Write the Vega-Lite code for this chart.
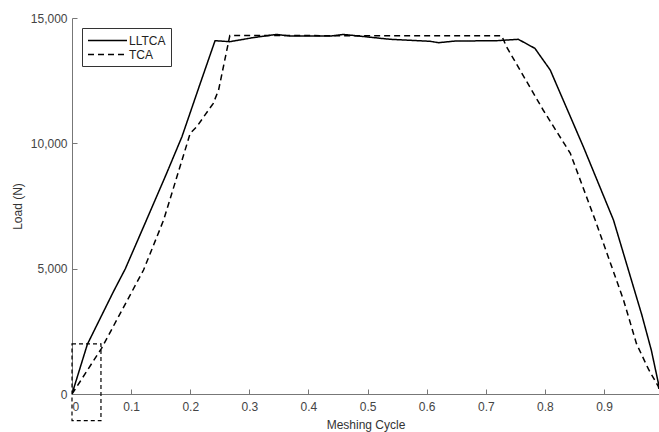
{
  "$schema": "https://vega.github.io/schema/vega-lite/v6.json",
  "width": 587,
  "height": 376,
  "autosize": "none",
  "padding": {"left": 72, "top": 18, "right": 0, "bottom": 38},
  "background": "white",
  "config": {
    "view": {"stroke": null},
    "font": "Liberation Sans",
    "axis": {
      "domainColor": "#777777",
      "tickColor": "#777777",
      "labelColor": "#444444",
      "titleColor": "#333333",
      "labelFont": "Liberation Sans",
      "titleFont": "Liberation Sans",
      "labelFontSize": 12,
      "titleFontSize": 12,
      "titleFontWeight": "normal",
      "grid": false,
      "tickSize": -5
    }
  },
  "layer": [
    {
      "data": {"values": [
        {"series": "LLTCA", "cycle": 0, "load": 0},
        {"series": "LLTCA", "cycle": 0.026, "load": 1982},
        {"series": "LLTCA", "cycle": 0.070, "load": 4080},
        {"series": "LLTCA", "cycle": 0.090, "load": 4986},
        {"series": "LLTCA", "cycle": 0.126, "load": 6940},
        {"series": "LLTCA", "cycle": 0.160, "load": 8800},
        {"series": "LLTCA", "cycle": 0.186, "load": 10265},
        {"series": "LLTCA", "cycle": 0.217, "load": 12395},
        {"series": "LLTCA", "cycle": 0.242, "load": 14095},
        {"series": "LLTCA", "cycle": 0.267, "load": 14055},
        {"series": "LLTCA", "cycle": 0.306, "load": 14215},
        {"series": "LLTCA", "cycle": 0.346, "load": 14345},
        {"series": "LLTCA", "cycle": 0.369, "load": 14280},
        {"series": "LLTCA", "cycle": 0.437, "load": 14280},
        {"series": "LLTCA", "cycle": 0.459, "load": 14345},
        {"series": "LLTCA", "cycle": 0.538, "load": 14150},
        {"series": "LLTCA", "cycle": 0.606, "load": 14070},
        {"series": "LLTCA", "cycle": 0.620, "load": 14015},
        {"series": "LLTCA", "cycle": 0.648, "load": 14080},
        {"series": "LLTCA", "cycle": 0.719, "load": 14095},
        {"series": "LLTCA", "cycle": 0.755, "load": 14150},
        {"series": "LLTCA", "cycle": 0.783, "load": 13790},
        {"series": "LLTCA", "cycle": 0.809, "load": 12925},
        {"series": "LLTCA", "cycle": 0.865, "load": 9865},
        {"series": "LLTCA", "cycle": 0.916, "load": 6940},
        {"series": "LLTCA", "cycle": 0.964, "load": 3150},
        {"series": "LLTCA", "cycle": 0.980, "load": 1750},
        {"series": "LLTCA", "cycle": 0.992, "load": 427},
        {"series": "LLTCA", "cycle": 0.996, "load": 0},
        {"series": "TCA", "cycle": 0, "load": 0},
        {"series": "TCA", "cycle": 0.0135, "load": 490},
        {"series": "TCA", "cycle": 0.050, "load": 1823},
        {"series": "TCA", "cycle": 0.121, "load": 4946},
        {"series": "TCA", "cycle": 0.155, "load": 6940},
        {"series": "TCA", "cycle": 0.200, "load": 10400},
        {"series": "TCA", "cycle": 0.211, "load": 10663},
        {"series": "TCA", "cycle": 0.239, "load": 11596},
        {"series": "TCA", "cycle": 0.248, "load": 12127},
        {"series": "TCA", "cycle": 0.267, "load": 14300},
        {"series": "TCA", "cycle": 0.727, "load": 14290},
        {"series": "TCA", "cycle": 0.735, "load": 13855},
        {"series": "TCA", "cycle": 0.797, "load": 11330},
        {"series": "TCA", "cycle": 0.843, "load": 9600},
        {"series": "TCA", "cycle": 0.885, "load": 6940},
        {"series": "TCA", "cycle": 0.933, "load": 3750},
        {"series": "TCA", "cycle": 0.955, "load": 2000},
        {"series": "TCA", "cycle": 0.975, "load": 1000},
        {"series": "TCA", "cycle": 0.992, "load": 290},
        {"series": "TCA", "cycle": 0.995, "load": 0}
      ]},
      "mark": {"type": "line", "clip": true, "strokeWidth": 1.5, "color": "black"},
      "encoding": {
        "x": {
          "field": "cycle", "type": "quantitative",
          "scale": {"domain": [0, 0.993], "nice": false, "zero": false},
          "axis": {
            "title": "Meshing Cycle",
            "values": [0, 0.1, 0.2, 0.3, 0.4, 0.5, 0.6, 0.7, 0.8, 0.9],
            "labelExpr": "datum.value == 0 ? '0' : format(datum.value, '.1f')",
            "labelPadding": 12,
            "titlePadding": 7
          }
        },
        "y": {
          "field": "load", "type": "quantitative",
          "scale": {"domain": [0, 15000], "nice": false},
          "axis": {
            "title": "Load (N)",
            "values": [0, 5000, 10000, 15000],
            "labelExpr": "format(datum.value, ',')",
            "labelPadding": 10,
            "titlePadding": 6
          }
        },
        "strokeDash": {
          "field": "series", "type": "nominal",
          "scale": {"domain": ["LLTCA", "TCA"], "range": [[1, 0], [6, 4]]},
          "legend": {
            "title": null,
            "orient": "none",
            "legendX": 10,
            "legendY": 10,
            "symbolType": "M-1,0H5",
            "symbolSize": 169,
            "symbolStrokeWidth": 1.5,
            "symbolStrokeColor": "black",
            "labelFont": "Liberation Sans",
            "labelFontSize": 12,
            "labelColor": "#222222",
            "labelOffset": 27,
            "rowPadding": 0,
            "padding": 5,
            "strokeColor": "#333333",
            "fillColor": "white"
          }
        }
      }
    },
    {
      "data": {"values": [{"x0": 0, "x1": 0.049, "y0": -1065, "y1": 2000}]},
      "mark": {"type": "rect", "clip": false, "fill": null, "filled": false, "stroke": "black", "strokeWidth": 1.2, "strokeDash": [4, 3]},
      "encoding": {
        "x": {"field": "x0", "type": "quantitative"},
        "x2": {"field": "x1"},
        "y": {"field": "y0", "type": "quantitative"},
        "y2": {"field": "y1"}
      }
    }
  ]
}
